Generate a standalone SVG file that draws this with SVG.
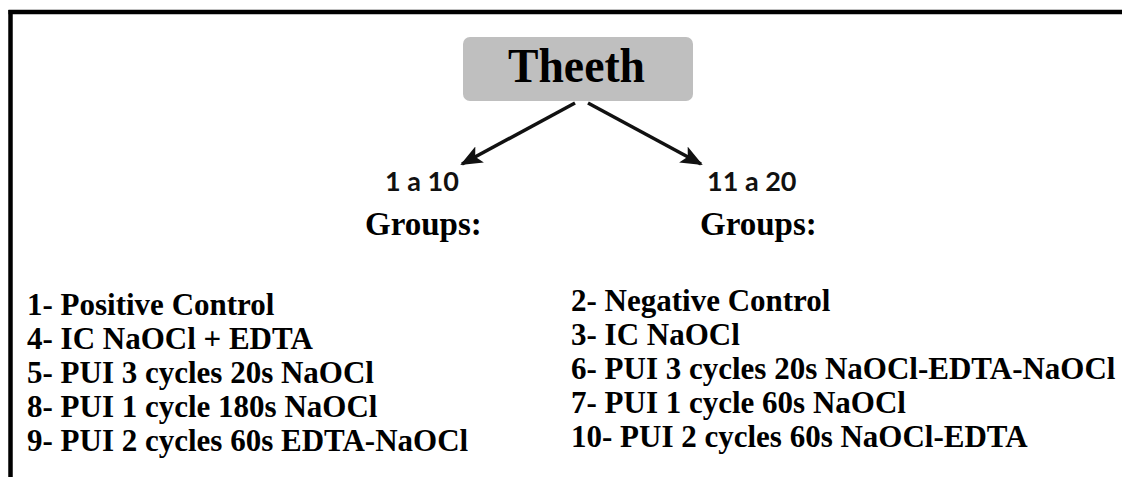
<svg xmlns="http://www.w3.org/2000/svg" width="1122" height="477" viewBox="0 0 1122 477">
<style>
.serif{font-family:"Liberation Serif","Times New Roman",serif;font-weight:bold;fill:#000}
.sans{font-family:Lato,"Liberation Sans",sans-serif;font-weight:bold;fill:#111}
.conn{stroke:#111;stroke-width:3.5;fill:none}
</style>
<defs>
<marker id="ah" markerUnits="userSpaceOnUse" markerWidth="24" markerHeight="20" refX="20" refY="9" orient="auto">
<polygon points="0,0 22,9 0,18 5,9" fill="#111"/>
</marker>
</defs>
<rect width="1122" height="477" fill="#fff"/>
<g id="frame">
<line x1="8.5" y1="12" x2="1122" y2="12" stroke="#000" stroke-width="4.5"/>
<line x1="10.5" y1="10" x2="10.5" y2="477" stroke="#000" stroke-width="4.5"/>
</g>
<g id="root">
<rect x="463" y="37" width="230" height="64" rx="7" fill="#bfbfbf"/>
<text class="serif" x="508" y="82" font-size="48" textLength="137" lengthAdjust="spacingAndGlyphs">Theeth</text>
</g>
<g id="connectors">
<line class="conn" x1="575" y1="103" x2="462" y2="164" marker-end="url(#ah)"/>
<line class="conn" x1="588" y1="103" x2="701" y2="164" marker-end="url(#ah)"/>
</g>
<g id="left-branch">
<text class="sans" x="385" y="191" font-size="27">1 a 10</text>
<text class="serif" x="365" y="235" font-size="33">Groups:</text>
</g>
<g id="right-branch">
<text class="sans" x="707" y="191" font-size="27">11 a 20</text>
<text class="serif" x="700" y="235" font-size="33">Groups:</text>
</g>
<g id="left-list" class="serif" font-size="31">
<text x="27" y="315">1- Positive Control</text>
<text x="27" y="349">4- IC NaOCl + EDTA</text>
<text x="27" y="383">5- PUI 3 cycles 20s NaOCl</text>
<text x="27" y="417">8- PUI 1 cycle 180s NaOCl</text>
<text x="27" y="451">9- PUI 2 cycles 60s EDTA-NaOCl</text>
</g>
<g id="right-list" class="serif" font-size="31">
<text x="571" y="311">2- Negative Control</text>
<text x="571" y="345">3- IC NaOCl</text>
<text x="571" y="379">6- PUI 3 cycles 20s NaOCl-EDTA-NaOCl</text>
<text x="571" y="413">7- PUI 1 cycle 60s NaOCl</text>
<text x="571" y="447">10- PUI 2 cycles 60s NaOCl-EDTA</text>
</g>
</svg>
